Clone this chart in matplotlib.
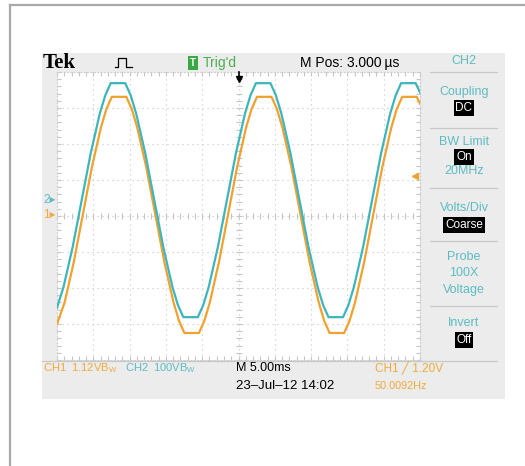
import numpy as np
import matplotlib
matplotlib.use("Agg")
import matplotlib.pyplot as plt
from matplotlib.patches import Rectangle
from matplotlib.lines import Line2D

# trace samples, in divisions (x: 0..10, y: -4..4)
ch2_x = [0, 0.18, 0.43, 0.68, 0.93, 1.18, 1.33, 1.48, 1.88, 2.03, 2.18, 2.43, 2.68, 2.93,
         3.18, 3.33, 3.48, 3.88, 4.03, 4.18, 4.43, 4.68, 4.93, 5.18, 5.33, 5.48, 5.88, 6.03,
         6.18, 6.43, 6.68, 6.93, 7.18, 7.33, 7.48, 7.88, 8.03, 8.18, 8.43, 8.68, 8.93, 9.18,
         9.33, 9.48, 9.88, 10.0]
ch2_y = [-2.55, -1.97, -0.87, 0.44, 1.75, 2.85, 3.35, 3.69, 3.69, 3.35, 2.85, 1.75, 0.44, -0.87,
         -1.97, -2.47, -2.81, -2.81, -2.47, -1.97, -0.87, 0.44, 1.75, 2.85, 3.35, 3.69, 3.69, 3.35,
         2.85, 1.75, 0.44, -0.87, -1.97, -2.47, -2.81, -2.81, -2.47, -1.97, -0.87, 0.44, 1.75, 2.85,
         3.35, 3.69, 3.69, 3.43]
ch1_x = [0, 0.21, 0.46, 0.71, 0.96, 1.21, 1.36, 1.51, 1.91, 2.06, 2.21, 2.46, 2.71, 2.96,
         3.21, 3.36, 3.51, 3.91, 4.06, 4.21, 4.46, 4.71, 4.96, 5.21, 5.36, 5.51, 5.91, 6.06,
         6.21, 6.46, 6.71, 6.96, 7.21, 7.36, 7.51, 7.91, 8.06, 8.21, 8.46, 8.71, 8.96, 9.21,
         9.36, 9.51, 9.91, 10.0]
ch1_y = [-3.0, -2.40, -1.29, 0.03, 1.35, 2.46, 2.97, 3.31, 3.31, 2.97, 2.46, 1.35, 0.03, -1.29,
         -2.40, -2.91, -3.25, -3.25, -2.91, -2.40, -1.29, 0.03, 1.35, 2.46, 2.97, 3.31, 3.31, 2.97,
         2.46, 1.35, 0.03, -1.29, -2.40, -2.91, -3.25, -3.25, -2.91, -2.40, -1.29, 0.03, 1.35, 2.46,
         2.97, 3.31, 3.31, 3.12]

ch1_ground = 0.03   # "1" marker level (div)
ch2_ground = 0.44   # "2" marker level (div)
trig_level = 1.10   # trigger arrow level (div)

# side menu (text, y pixel, highlighted)
menu_items = [("CH2", 61, False), ("Coupling", 92, False), ("DC", 108, True),
              ("BW Limit", 142, False), ("On", 157, True), ("20MHz", 171, False),
              ("Volts/Div", 208, False), ("Coarse", 225, True),
              ("Probe", 257, False), ("100X", 273, False), ("Voltage", 290, False),
              ("Invert", 323, False), ("Off", 340, True)]
menu_lines = [72, 128, 188, 241, 306]

CYAN = "#3db5bd"
ORANGE = "#f0a12e"
TXT_CYAN = "#5cbcc2"
TXT_ORANGE = "#f2a93c"
FAM = ["Liberation Sans", "DejaVu Sans"]
W, H = 525, 466


def fx(x):
    return x / W


def fy(y):
    return 1 - y / H


fig = plt.figure(figsize=(5.25, 4.66), dpi=100)
fig.patch.set_facecolor("white")

# outer frame
fig.add_artist(Line2D([fx(10), fx(10)], [fy(5), 0], color="#a9a9a9", lw=1.6))
fig.add_artist(Line2D([fx(10), 1], [fy(5), fy(5)], color="#a9a9a9", lw=1.6))

# scope screen background
fig.add_artist(Rectangle((fx(42), fy(399)), fx(505 - 42), (399 - 53) / H,
                         facecolor="#ececec", edgecolor="none", zorder=0))

ax = fig.add_axes([fx(57), fy(360), fx(420 - 57), (360 - 72) / H])
ax.set_facecolor("white")
ax.set_xlim(0, 10)
ax.set_ylim(-4, 4)
ax.set_xticks([])
ax.set_yticks([])
for s in ax.spines.values():
    s.set_color("#cfcfcf")
    s.set_linewidth(0.8)
    s.set_linestyle((0, (1, 2)))

gc = "#c6c6c6"
for i in range(1, 10):
    ax.axvline(i, color=gc, lw=0.8, ls=(0, (1, 3.5)))
for j in range(-3, 4):
    ax.axhline(j, color=gc, lw=0.8, ls=(0, (1, 3.5)))

# minor ticks on centre lines and border
mt = np.arange(0, 10.01, 0.2)
mv = np.arange(-4, 4.01, 0.2)
ax.plot(mt, np.zeros_like(mt), ls="none", marker="|", ms=4, color=gc, mew=0.8)
ax.plot(np.full_like(mv, 5), mv, ls="none", marker="_", ms=4, color=gc, mew=0.8)
ax.plot(mt, np.full_like(mt, 3.97), ls="none", marker="|", ms=4, color=gc, mew=0.8)
ax.plot(mt, np.full_like(mt, -3.97), ls="none", marker="|", ms=4, color=gc, mew=0.8)
ax.plot(np.full_like(mv, 0.04), mv, ls="none", marker="_", ms=4, color=gc, mew=0.8)
ax.plot(np.full_like(mv, 9.96), mv, ls="none", marker="_", ms=4, color=gc, mew=0.8)

ax.plot(ch1_x, ch1_y, color=ORANGE, lw=1.6, solid_joinstyle="round", zorder=3)
ax.plot(ch2_x, ch2_y, color=CYAN, lw=1.6, solid_joinstyle="round", zorder=4)

# markers: trigger position, trigger level, channel grounds
ax.plot([5], [3.8], marker="v", color="black", ms=5, clip_on=False, zorder=5)
ax.plot([5, 5], [3.8, 4.0], color="black", lw=1.2, clip_on=False, zorder=5)
ax.plot([9.85], [trig_level], marker="<", color=ORANGE, ms=5, clip_on=False, zorder=5)
ax.text(-0.03, ch2_ground, "2\u25b8", color=TXT_CYAN, fontsize=8.5, ha="right", va="center",
        family=FAM)
ax.text(-0.03, ch1_ground, "1\u25b8", color=TXT_ORANGE, fontsize=8.5, ha="right", va="center",
        family=FAM)

# top status bar
fig.text(fx(43), fy(63), "Tek", fontsize=15, fontweight="bold", family="Liberation Serif",
         va="center", ha="left", color="black")
px = [115, 118, 118, 120, 120, 126, 126, 129, 132]
py = [67, 67, 58, 58, 58, 58, 67, 67, 67]
fig.add_artist(Line2D([fx(v) for v in px], [fy(v) for v in py], color="black", lw=0.9))
fig.text(fx(193), fy(63), "T", fontsize=7, color="white", ha="center", va="center",
         family=FAM, fontweight="bold",
         bbox=dict(boxstyle="square,pad=0.2", fc="#3aa845", ec="none"))
fig.text(fx(203), fy(63), "Trig'd", fontsize=10, color="#4cae4f", ha="left", va="center",
         family=FAM)
fig.text(fx(300), fy(63), "M Pos: 3.000\u2009\u00b5s", fontsize=10, color="black",
         ha="left", va="center", family=FAM)

# side menu
for label, y, hl in menu_items:
    if hl:
        fig.text(fx(464), fy(y), label, fontsize=8.5, color="white", ha="center", va="center",
                 family=FAM,
                 bbox=dict(boxstyle="square,pad=0.15", fc="black", ec="none"))
    else:
        fig.text(fx(464), fy(y), label, fontsize=9, color=TXT_CYAN, ha="center",
                 va="center", family=FAM)
for y in menu_lines:
    fig.add_artist(Line2D([fx(430), fx(497)], [fy(y), fy(y)], color="#c8c8c8", lw=0.9))
fig.add_artist(Line2D([fx(42), fx(497)], [fy(361), fy(361)], color="#c8c8c8", lw=0.9))

# bottom status
fig.text(fx(43), fy(368), "CH1  1.12VB$_\\mathregular{W}$", fontsize=8, color=TXT_ORANGE,
         ha="left", va="center", family=FAM)
fig.text(fx(125), fy(368), "CH2  100VB$_\\mathregular{W}$", fontsize=8, color=TXT_CYAN,
         ha="left", va="center", family=FAM)
fig.text(fx(236), fy(368), "M 5.00ms", fontsize=9, color="black", ha="left", va="center",
         family=FAM)
fig.text(fx(236), fy(386), "23\u2013Jul\u201312 14:02", fontsize=9.5, color="black",
         ha="left", va="center", family=FAM)
fig.text(fx(375), fy(368), "CH1 \u2571 1.20V", fontsize=8.5, color=TXT_ORANGE, ha="left",
         va="center", family=FAM)
fig.text(fx(375), fy(386), "50.0092Hz", fontsize=7.8, color=TXT_ORANGE, ha="left",
         va="center", family=FAM)

fig.savefig("out.png", dpi=100)
